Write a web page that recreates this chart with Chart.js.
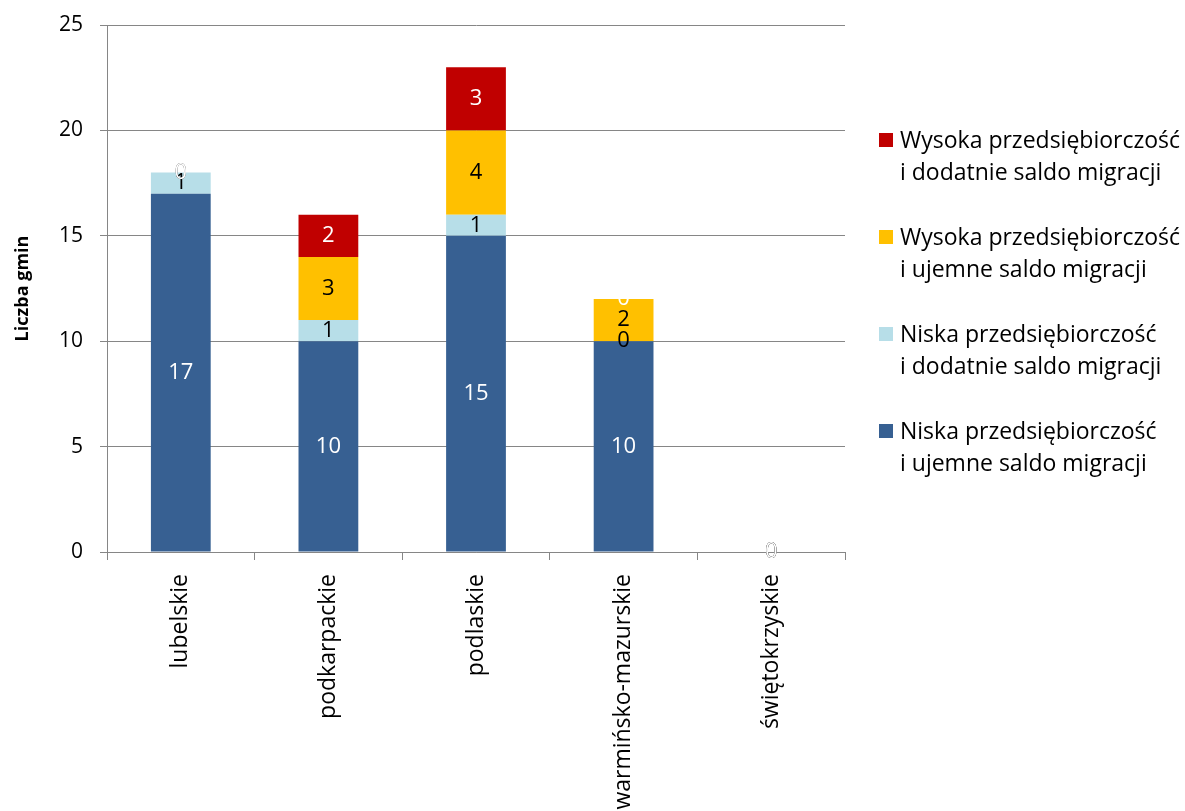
<!DOCTYPE html>
<html>
<head>
<meta charset="utf-8">
<script src="https://cdn.jsdelivr.net/npm/chart.js@4/dist/chart.umd.min.js"></script>
<style>
  body { margin: 0; background: #fff; }
  #wrap { width: 1185px; height: 811px; }
</style>
</head>
<body>
<div id="wrap"><canvas id="chart" width="1185" height="811"></canvas></div>
<script>
// Chart data
const regions = ['lubelskie', 'podkarpackie', 'podlaskie', 'warmińsko-mazurskie', 'świętokrzyskie'];
const niskaUjemne = [17, 10, 15, 10, 0];
const niskaDodatnie = [1, 1, 1, 0, 0];
const wysokaUjemne = [0, 3, 4, 2, 0];
const wysokaDodatnie = [0, 2, 3, 0, 0];
const yTicks = [0, 5, 10, 15, 20, 25];

const FONT = "'Open Sans', 'Noto Sans', sans-serif";
const GRID = '#868686';

// value labels centred in each segment
const valueLabels = {
    id: 'valueLabels',
    afterDatasetsDraw(chart) {
        const ctx = chart.ctx;
        ctx.save();
        ctx.font = `22px ${FONT}`;
        ctx.textAlign = 'center';
        ctx.textBaseline = 'middle';
        chart.data.datasets.forEach((ds, i) => {
            const meta = chart.getDatasetMeta(i);
            meta.data.forEach((bar, j) => {
                ctx.fillStyle = ds.labelColor;
                ctx.fillText(String(ds.data[j]), bar.x, (bar.y + bar.base) / 2);
            });
        });
        ctx.restore();
    }
};

// legend on the right, two-line labels, reversed order
const sideLegend = {
    id: 'sideLegend',
    afterDraw(chart) {
        const ctx = chart.ctx;
        const x = chart.chartArea.right + 34;
        let y = 140;
        ctx.save();
        ctx.font = `23px ${FONT}`;
        ctx.textBaseline = 'middle';
        ctx.textAlign = 'left';
        const items = chart.data.datasets.slice().reverse();
        items.forEach(ds => {
            ctx.fillStyle = ds.backgroundColor;
            ctx.fillRect(x, y - 7, 14, 14);
            ctx.fillStyle = '#000';
            ds.legendLines.forEach((line, k) => {
                ctx.fillText(line, x + 21, y + 1 + k * 32);
            });
            y += 97;
        });
        ctx.restore();
    }
};

const ctx = document.getElementById('chart');
new Chart(ctx, {
    type: 'bar',
    data: {
        labels: regions,
        datasets: [
            {
                label: 'Niska przedsiębiorczość i ujemne saldo migracji',
                legendLines: ['Niska przedsiębiorczość', 'i ujemne saldo migracji'],
                data: niskaUjemne,
                backgroundColor: '#376092',
                labelColor: '#fff'
            },
            {
                label: 'Niska przedsiębiorczość i dodatnie saldo migracji',
                legendLines: ['Niska przedsiębiorczość', 'i dodatnie saldo migracji'],
                data: niskaDodatnie,
                backgroundColor: '#B7DEE8',
                labelColor: '#000'
            },
            {
                label: 'Wysoka przedsiębiorczość i ujemne saldo migracji',
                legendLines: ['Wysoka przedsiębiorczość', 'i ujemne saldo migracji'],
                data: wysokaUjemne,
                backgroundColor: '#FFC000',
                labelColor: '#000'
            },
            {
                label: 'Wysoka przedsiębiorczość i dodatnie saldo migracji',
                legendLines: ['Wysoka przedsiębiorczość', 'i dodatnie saldo migracji'],
                data: wysokaDodatnie,
                backgroundColor: '#C00000',
                labelColor: '#fff'
            }
        ]
    },
    options: {
        responsive: false,
        animation: false,
        layout: { padding: { top: 25, right: 340, left: 0, bottom: 0 } },
        datasets: { bar: { categoryPercentage: 1, barPercentage: 0.405 } },
        plugins: {
            legend: { display: false },
            tooltip: { enabled: false }
        },
        scales: {
            x: {
                stacked: true,
                grid: { offset: true, drawOnChartArea: false, color: GRID, tickLength: 8, lineWidth: 1 },
                border: { color: GRID },
                ticks: {
                    minRotation: 90, maxRotation: 90, autoSkip: false,
                    padding: 14, color: '#000', font: { family: FONT, size: 23 }
                },
                afterFit: scale => { scale.height = 259; }
            },
            y: {
                stacked: true,
                min: 0, max: 25,
                afterBuildTicks: scale => { scale.ticks = yTicks.map(v => ({ value: v })); },
                grid: { color: GRID, tickLength: 7 },
                border: { color: GRID },
                ticks: { padding: 17, color: '#000', font: { family: FONT, size: 21 } },
                title: {
                    display: true, text: 'Liczba gmin', color: '#000',
                    font: { family: FONT, size: 18, weight: 'bold' },
                    padding: { top: 12 }
                },
                afterFit: scale => {
                    scale.width = 107;
                    scale.paddingTop = 0;
                    scale.paddingBottom = 0;
                }
            }
        }
    },
    plugins: [valueLabels, sideLegend]
});
</script>
</body>
</html>
